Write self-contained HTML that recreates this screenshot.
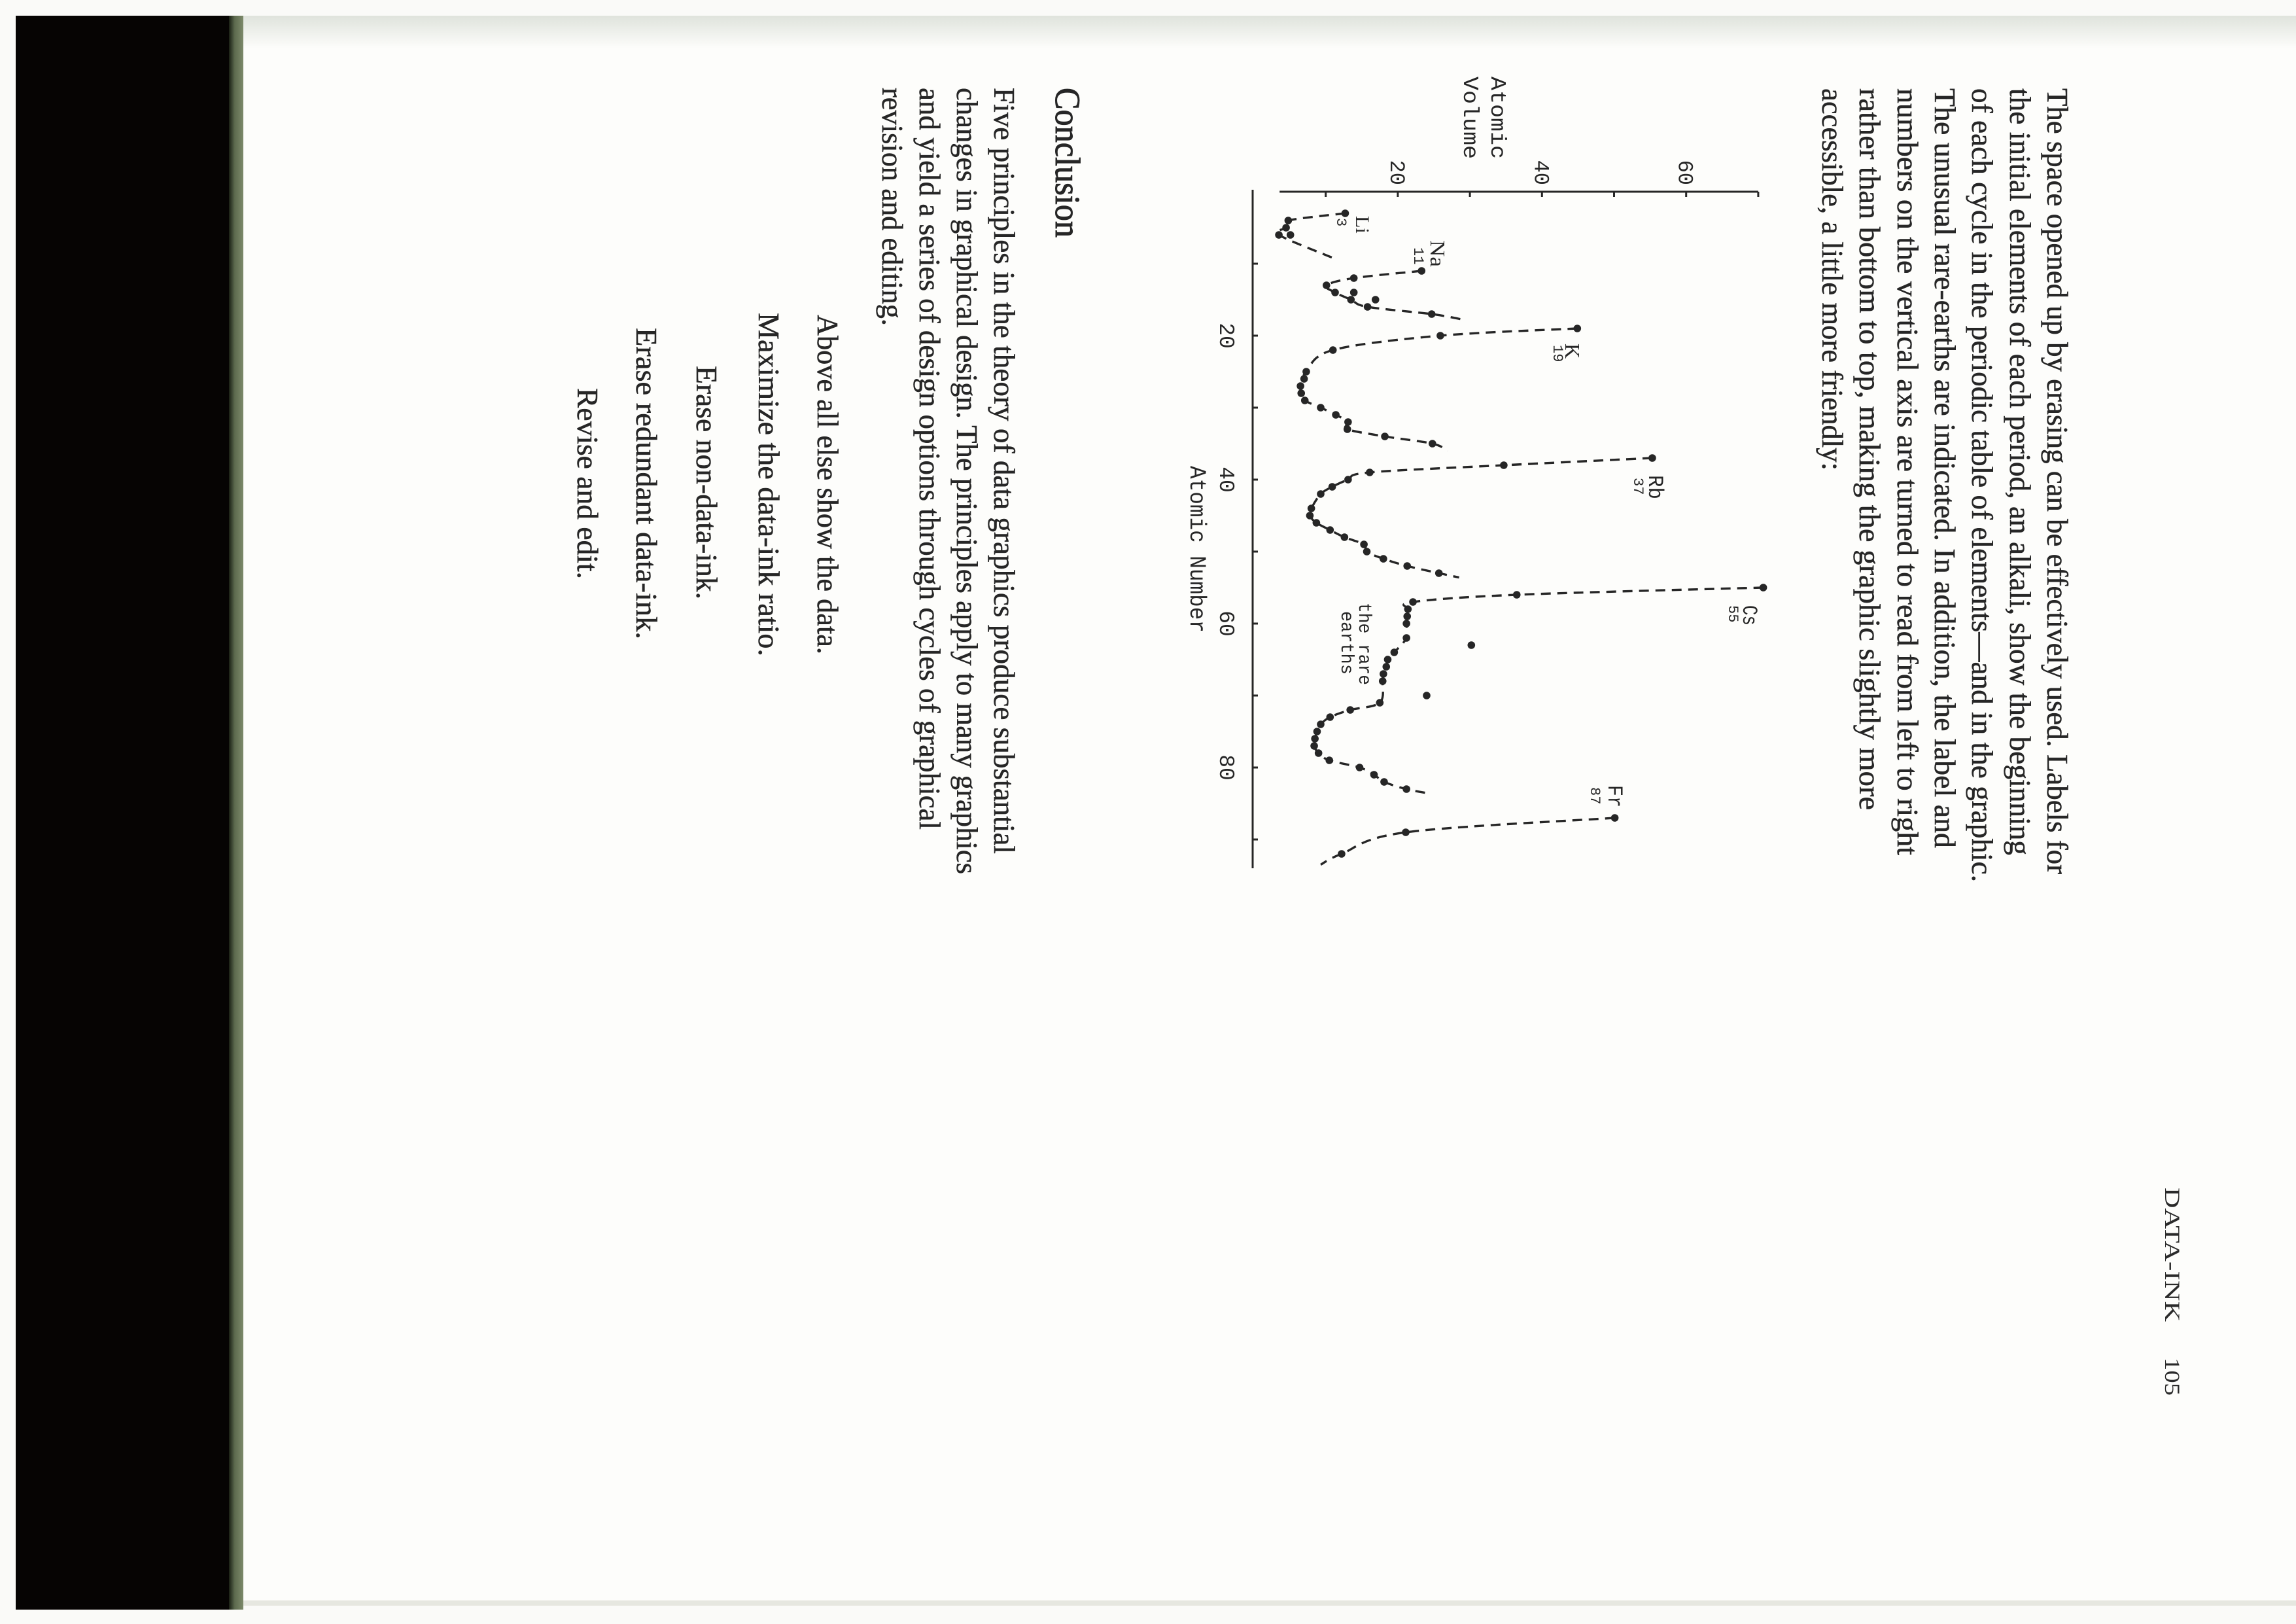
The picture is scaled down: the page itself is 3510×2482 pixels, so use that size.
<!DOCTYPE html>
<html>
<head>
<meta charset="utf-8">
<style>
  html,body{margin:0;padding:0;background:#fbfbf9;}
  #screen{position:relative;width:3510px;height:2482px;overflow:hidden;background:#fbfbf9;}
  #bg{position:absolute;left:0;top:0;}
  #pageWrap{position:absolute;left:0;top:0;width:2482px;height:3510px;transform-origin:0 0;transform:translate(3510px,0) rotate(90deg);}
  .body{font-family:"Liberation Serif",serif;font-size:46px;fill:#262626;stroke:#262626;stroke-width:0.5;}
  .chart{font-family:"Liberation Mono",monospace;fill:#262626;}
</style>
</head>
<body>
<div id="screen">
  <svg id="bg" width="3510" height="2482">
    <defs>
      <linearGradient id="topG" x1="0" y1="0" x2="0" y2="1">
        <stop offset="0" stop-color="#dfe3dc"/>
        <stop offset="1" stop-color="#fdfdfb"/>
      </linearGradient>
      <linearGradient id="edgeG" x1="0" y1="0" x2="1" y2="0">
        <stop offset="0" stop-color="#1a2015"/>
        <stop offset="0.4" stop-color="#5d6a4e"/>
        <stop offset="1" stop-color="#7d8a6b"/>
      </linearGradient>
    </defs>
    <rect x="0" y="0" width="3510" height="2482" fill="#fafaf8"/>
    <rect x="372" y="24" width="3138" height="2428" fill="#fdfdfb"/>
    <rect x="372" y="24" width="3138" height="50" fill="url(#topG)"/>
    <rect x="372" y="2446" width="3138" height="8" fill="#e6e7e0"/>
    <rect x="24" y="24" width="328" height="2436" fill="#060403"/>
    <rect x="350" y="24" width="22" height="2436" fill="url(#edgeG)"/>
  </svg>

  <div id="pageWrap">
    <svg id="page" width="2482" height="3510">
      <text x="1815" y="200" font-family="Liberation Serif, serif" font-size="33" fill="#2a2a2a" textLength="205" lengthAdjust="spacingAndGlyphs">DATA-INK</text>
      <text x="2075" y="200" font-family="Liberation Serif, serif" font-size="33" fill="#2a2a2a" textLength="58" lengthAdjust="spacingAndGlyphs">105</text>

      <g class="body">
        <text x="135" y="380" textLength="1201" lengthAdjust="spacingAndGlyphs">The space opened up by erasing can be effectively used. Labels for</text>
        <text x="135" y="437" textLength="1172" lengthAdjust="spacingAndGlyphs">the initial elements of each period, an alkali, show the beginning</text>
        <text x="135" y="495" textLength="1213" lengthAdjust="spacingAndGlyphs">of each cycle in the periodic table of elements—and in the graphic.</text>
        <text x="135" y="552" textLength="1161" lengthAdjust="spacingAndGlyphs">The unusual rare-earths are indicated. In addition, the label and</text>
        <text x="135" y="609" textLength="1172" lengthAdjust="spacingAndGlyphs">numbers on the vertical axis are turned to read from left to right</text>
        <text x="135" y="667" textLength="1103" lengthAdjust="spacingAndGlyphs">rather than bottom to top, making the graphic slightly more</text>
        <text x="135" y="724" textLength="584" lengthAdjust="spacingAndGlyphs">accessible, a little more friendly:</text>
      </g>

      <g id="chart" class="chart">
        <text x="117" y="1230" font-size="33" textLength="126" lengthAdjust="spacingAndGlyphs">Atomic</text>
        <text x="117" y="1272" font-size="33" textLength="126" lengthAdjust="spacingAndGlyphs">Volume</text>
        <text x="712" y="1690" font-size="35" textLength="255" lengthAdjust="spacingAndGlyphs">Atomic Number</text>
        <g id="axes"></g>
        <g id="curves"></g>
        <g id="dots"></g>
        <g>
          <text x="330" y="1437" font-family="Liberation Serif, serif" font-size="30">Li</text>
          <text x="333" y="1466" font-size="22">3</text>
          <text x="367" y="1323" font-family="Liberation Serif, serif" font-size="32" textLength="41" lengthAdjust="spacingAndGlyphs">Na</text>
          <text x="378" y="1348" font-size="22">11</text>
          <text x="525" y="1117" font-family="Liberation Serif, serif" font-size="32">K</text>
          <text x="527" y="1135" font-size="22">19</text>
          <text x="726" y="989" font-size="32" textLength="37" lengthAdjust="spacingAndGlyphs">Rb</text>
          <text x="730" y="1012" font-size="22">37</text>
          <text x="925" y="845" font-size="32" textLength="31" lengthAdjust="spacingAndGlyphs">Cs</text>
          <text x="925" y="867" font-size="22">55</text>
          <text x="1200" y="1051" font-size="32" textLength="34" lengthAdjust="spacingAndGlyphs">Fr</text>
          <text x="1203" y="1078" font-size="22">87</text>
          <text x="921" y="1432" font-size="28" textLength="126" lengthAdjust="spacingAndGlyphs">the rare</text>
          <text x="934" y="1459" font-size="28" textLength="97" lengthAdjust="spacingAndGlyphs">earths</text>
        </g>
      </g>

      <text x="134" y="1896" font-family="Liberation Serif, serif" font-size="54" fill="#262626" stroke="#262626" stroke-width="1" textLength="229" lengthAdjust="spacingAndGlyphs">Conclusion</text>
      <g class="body">
        <text x="134" y="1990" textLength="1171" lengthAdjust="spacingAndGlyphs">Five principles in the theory of data graphics produce substantial</text>
        <text x="134" y="2047" textLength="1202" lengthAdjust="spacingAndGlyphs">changes in graphical design. The principles apply to many graphics</text>
        <text x="134" y="2104" textLength="1134" lengthAdjust="spacingAndGlyphs">and yield a series of design options through cycles of graphical</text>
        <text x="134" y="2161" textLength="364" lengthAdjust="spacingAndGlyphs">revision and editing.</text>
      </g>
      <g class="body">
        <text x="481" y="2260" textLength="519" lengthAdjust="spacingAndGlyphs">Above all else show the data.</text>
        <text x="478" y="2350" textLength="525" lengthAdjust="spacingAndGlyphs">Maximize the data-ink ratio.</text>
        <text x="559" y="2445" textLength="357" lengthAdjust="spacingAndGlyphs">Erase non-data-ink.</text>
        <text x="501" y="2537" textLength="476" lengthAdjust="spacingAndGlyphs">Erase redundant data-ink.</text>
        <text x="593" y="2627" textLength="292" lengthAdjust="spacingAndGlyphs">Revise and edit.</text>
      </g>
    </svg>
  </div>
</div>

<script>
const p2Z = [3, 4, 5, 6];
const p2V = [12.7, 4.8, 4.5, 3.5];
const p3Z = [11, 12, 13, 14, 15, 16, 17];
const p3V = [23.3, 13.9, 10.1, 11.3, 13.5, 15.8, 24.7];
const p4Z = [19, 20, 22, 25, 26, 27, 28, 29, 30, 31, 32, 33, 34, 35];
const p4V = [44.9, 25.9, 11.0, 7.3, 7.0, 6.5, 6.6, 7.1, 9.3, 11.4, 13.1, 13.0, 18.2, 24.8];
const p5Z = [37, 38, 39, 40, 41, 42, 44, 45, 46, 47, 48, 49, 50, 51, 52, 53];
const p5V = [55.3, 34.7, 16.1, 13.1, 10.9, 9.3, 8.0, 7.8, 8.7, 10.6, 12.6, 15.3, 15.7, 18.0, 21.3, 25.7];
const p6Z = [55, 56, 57, 58, 59, 60, 62, 64, 65, 66, 67, 68, 71, 72, 73, 74, 75, 76, 77, 78, 79, 80, 81, 82, 83];
const p6V = [70.7, 36.5, 22.1, 21.4, 21.3, 21.2, 21.2, 19.5, 18.6, 18.4, 18.0, 17.9, 17.5, 13.4, 10.6, 9.3, 8.8, 8.5, 8.4, 9.0, 10.5, 14.7, 16.7, 18.1, 21.2];
const p7Z = [87, 89, 92];
const p7V = [50.1, 21.1, 12.2];
const extraZ = [6, 14, 15, 63, 70];
const extraV = [5.1, 13.9, 16.9, 30.2, 24.0];
const tailZ = [9.2, 17.8, 36, 53.6, 83.6, 93.5];
const tailV = [11.0, 29.2, 26.9, 28.5, 24.3, 9.3];
const vTicks = [10, 20, 30, 40, 50, 60, 70];
const vTickLabels = ["", "20", "", "40", "", "60", ""];
const zTicks = [10, 20, 30, 40, 50, 60, 70, 80, 90];
const zTickLabels = ["", "20", "", "40", "", "60", "", "80", ""];

const xZ = z => 293 + 11.0 * z;
const yV = v => 1593.5 - 11.02 * v;
const NS = "http://www.w3.org/2000/svg";
const INK = "#262626";
function mk(tag, attrs, parent){
  const e = document.createElementNS(NS, tag);
  for (const k in attrs) e.setAttribute(k, attrs[k]);
  parent.appendChild(e);
  return e;
}

const axes = document.getElementById("axes");
const yAxis = mk("line", {x1: 293, y1: yV(70), x2: 293, y2: yV(3.6), stroke: INK, "stroke-width": 3}, axes);


const xAxis = mk("line", {x1: 290, y1: 1595, x2: xZ(94), y2: 1595, stroke: INK, "stroke-width": 3}, axes);


vTicks.forEach((v, i) => {
  const t = mk("line", {x1: 293, y1: yV(v), x2: 301, y2: yV(v), stroke: INK, "stroke-width": 3}, axes);
  
  
  if (vTickLabels[i]) {
    const l = mk("text", {x: 283, y: yV(v) + 11, "font-size": 32, "text-anchor": "end"}, axes);
    l.textContent = vTickLabels[i];
    
    
  }
});
zTicks.forEach((z, i) => {
  const t = mk("line", {x1: xZ(z), y1: 1595, x2: xZ(z), y2: 1587, stroke: INK, "stroke-width": 3}, axes);
  
  
  if (zTickLabels[i]) {
    const l = mk("text", {x: xZ(z), y: 1645, "font-size": 33, "text-anchor": "middle"}, axes);
    l.textContent = zTickLabels[i];
    
    
  }
});

function catmull(pts){
  let d = "M" + pts[0][0].toFixed(1) + "," + pts[0][1].toFixed(1);
  for (let i = 0; i < pts.length - 1; i++) {
    const p0 = pts[i - 1] || pts[i], p1 = pts[i], p2 = pts[i + 1], p3 = pts[i + 2] || p2;
    const c1 = [p1[0] + (p2[0] - p0[0]) / 6, p1[1] + (p2[1] - p0[1]) / 6];
    const c2 = [p2[0] - (p3[0] - p1[0]) / 6, p2[1] - (p3[1] - p1[1]) / 6];
    d += " C" + c1[0].toFixed(1) + "," + c1[1].toFixed(1) + " " + c2[0].toFixed(1) + "," + c2[1].toFixed(1) + " " + p2[0].toFixed(1) + "," + p2[1].toFixed(1);
  }
  return d;
}
const periods = [[p2Z, p2V], [p3Z, p3V], [p4Z, p4V], [p5Z, p5V], [p6Z, p6V], [p7Z, p7V]];
const curves = document.getElementById("curves");
const dots = document.getElementById("dots");
periods.forEach((p, k) => {
  const pts = p[0].map((z, i) => [xZ(z), yV(p[1][i])]);
  pts.push([xZ(tailZ[k]), yV(tailV[k])]);
  const path = mk("path", {d: catmull(pts), fill: "none", stroke: INK, "stroke-width": 3.4, "stroke-dasharray": "15 10", "stroke-linecap": "butt"}, curves);
  
  
  p[0].forEach((z, i) => {
    const c = mk("circle", {cx: xZ(z), cy: yV(p[1][i]), r: 5.8, fill: INK}, dots);
    
    
  });
});
extraZ.forEach((z, i) => {
  const c = mk("circle", {cx: xZ(z), cy: yV(extraV[i]), r: 5.8, fill: INK}, dots);
  
  
});
</script>
</body>
</html>
